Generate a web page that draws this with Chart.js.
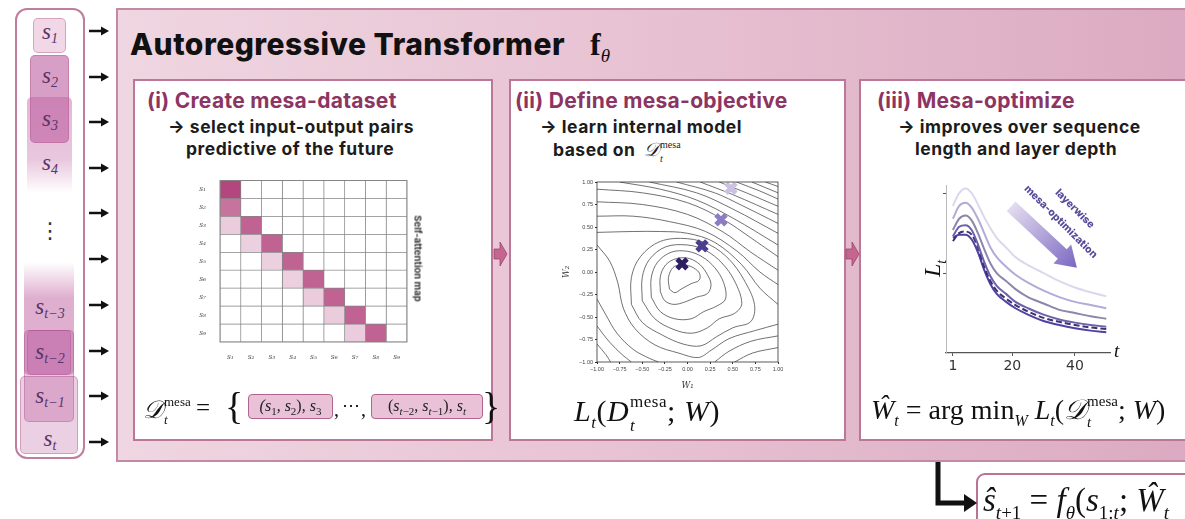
<!DOCTYPE html>
<html>
<head>
<meta charset="utf-8">
<script src="https://cdn.jsdelivr.net/npm/chart.js@4.4.1/dist/chart.umd.min.js"></script>
<style>
html,body{margin:0;padding:0}
body{width:1185px;height:519px;overflow:hidden;position:relative;background:#fff;font-family:Inter,"Open Sans",sans-serif}
.a{position:absolute}
.math{position:absolute;font-family:"Liberation Serif","DejaVu Serif",serif;color:#111;white-space:nowrap}
.math i{font-style:italic}
.ss{display:inline-flex;flex-direction:column;line-height:1.4;margin-left:1px;font-style:normal}
.ss .sb{font-style:italic}
.tok{position:absolute;left:14px;width:72px;text-align:center;font-family:"Liberation Serif","DejaVu Serif",serif;font-style:italic;font-size:23px;color:#5a3468;line-height:24px}
.tok sub{font-size:14px;vertical-align:-4px}
.tb{box-sizing:border-box;border-radius:5px;border:1px solid rgba(160,70,130,0.35)}
#main{left:116px;top:8px;width:1100px;height:454px;box-sizing:border-box;border:2px solid #c28aa6;background:linear-gradient(90deg,#efd6e1 0%,#e8c3d3 45%,#dba9c1 100%)}
.panel{position:absolute;top:79px;height:362px;box-sizing:border-box;background:#fff;border:2px solid #bb7797}
.hd{position:absolute;font-weight:700;color:#8c3462;font-size:21px;letter-spacing:0.3px;line-height:22px;white-space:nowrap}
.sub{position:absolute;font-weight:700;color:#1c1c1c;font-size:17.5px;letter-spacing:0.5px;line-height:22px;white-space:nowrap}
.pill{position:absolute;box-sizing:border-box;height:25px;top:394px;background:#e9c2d8;border:1.5px solid #b06590;border-radius:4px;font-family:"Liberation Serif",serif;font-size:16px;line-height:22px;text-align:center;color:#222}
.pill sub{font-size:11px}
</style>
</head>
<body>

<!-- token sequence -->
<div class="a" style="left:15px;top:8px;width:70px;height:451px;box-sizing:border-box;border:2px solid #c07d9d;border-radius:12px;background:#fff"></div>
<div class="a tb" style="left:33px;top:18px;width:33px;height:35px;background:#f2d8e7"></div>
<div class="a tb" style="left:30px;top:55px;width:39px;height:88px;background:rgba(190,95,160,0.6)"></div>
<div class="a tb" style="left:27px;top:97px;width:45px;height:96px;border:none;background:linear-gradient(180deg,rgba(190,95,160,0.45) 0%,rgba(190,95,160,0.35) 65%,rgba(190,95,160,0) 100%)"></div>
<div class="a tb" style="left:24px;top:262px;width:50px;height:113px;border:none;background:linear-gradient(180deg,rgba(190,95,160,0) 0%,rgba(190,95,160,0.5) 32%,rgba(190,95,160,0.5) 100%)"></div>
<div class="a tb" style="left:27px;top:330px;width:44px;height:45px;background:rgba(190,95,160,0.35)"></div>
<div class="a tb" style="left:24px;top:330px;width:50px;height:92px;background:rgba(190,95,160,0.35)"></div>
<div class="a tb" style="left:20px;top:376px;width:58px;height:78px;background:rgba(190,95,160,0.3)"></div>

<div class="tok" style="top:20px"><i>s</i><sub>1</sub></div>
<div class="tok" style="top:64px"><i>s</i><sub>2</sub></div>
<div class="tok" style="top:107px"><i>s</i><sub>3</sub></div>
<div class="tok" style="top:151px"><i>s</i><sub>4</sub></div>
<div class="a" style="left:14px;width:72px;top:214px;text-align:center;font-size:22px;line-height:34px;color:#333;font-family:'DejaVu Sans'">⋮</div>
<div class="tok" style="top:295px"><i>s</i><sub><i>t</i>−3</sub></div>
<div class="tok" style="top:340px"><i>s</i><sub><i>t</i>−2</sub></div>
<div class="tok" style="top:384px"><i>s</i><sub><i>t</i>−1</sub></div>
<div class="tok" style="top:427px"><i>s</i><sub><i>t</i></sub></div>

<!-- transformer block -->
<div class="a" id="main"></div>
<div class="a" style="left:130px;top:27px;font-size:30px;letter-spacing:0.5px;line-height:34px;font-weight:800;color:#111;white-space:nowrap">Autoregressive Transformer</div>
<div class="math" style="left:590px;top:26px;font-size:32px;font-weight:700;line-height:36px">f<sub style="font-size:19px;font-style:italic;font-weight:400">θ</sub></div>

<div class="panel" style="left:133px;width:360px"></div>
<div class="panel" style="left:509px;width:337px"></div>
<div class="panel" style="left:859px;width:345px"></div>

<div class="hd" style="left:147px;top:90px">(i) Create mesa-dataset</div>
<div class="sub" style="left:168px;top:116px">→ select input-output pairs</div>
<div class="sub" style="left:186px;top:138px">predictive of the future</div>

<div class="hd" style="left:515px;top:90px">(ii) Define mesa-objective</div>
<div class="sub" style="left:540px;top:116px">→ learn internal model</div>
<div class="sub" style="left:553px;top:138px">based on <span style="font-family:'Liberation Serif',serif;font-weight:400;font-size:19px;margin-left:4px;letter-spacing:0"><i>𝒟</i><span class="ss" style="font-size:10px;vertical-align:8px"><span>mesa</span><span class="sb">t</span></span></span></div>

<div class="hd" style="left:877px;top:90px">(iii) Mesa-optimize</div>
<div class="sub" style="left:898px;top:116px">→ improves over sequence</div>
<div class="sub" style="left:915px;top:138px">length and layer depth</div>

<!-- charts -->
<div class="a" style="left:185px;top:170px"><canvas id="attnMap" width="245" height="190"></canvas></div>
<div class="a" style="left:418px;top:260px;width:0;height:0">
  <div style="position:absolute;left:-60px;top:-7px;width:120px;text-align:center;transform:rotate(90deg);font-size:9.5px;font-weight:700;color:#333;white-space:nowrap">Self-attention map</div>
</div>

<div class="a" style="left:550px;top:170px"><canvas id="lossLandscape" width="245" height="225"></canvas></div>

<div class="a" style="left:900px;top:175px"><canvas id="lossCurves" width="230" height="205"></canvas></div>
<div class="math" style="left:919px;top:249px;font-size:24px;transform:rotate(-90deg);transform-origin:14px 14px"><i>L</i><sub style="font-size:14px"><i>t</i></sub></div>
<div class="math" style="left:1114px;top:340px;font-size:19px"><i>t</i></div>

<!-- layerwise arrow -->
<svg class="a" style="left:0;top:0" width="1185" height="519">
  <defs>
    <linearGradient id="lw" x1="0" y1="0" x2="1" y2="0">
      <stop offset="0" stop-color="#e3dcef"/>
      <stop offset="1" stop-color="#7b67c2"/>
    </linearGradient>
  </defs>
  <g transform="translate(1044,237) rotate(43)">
    <polygon points="-45,-6.5 25,-6.5 25,-13 45,0 25,13 25,6.5 -45,6.5" fill="url(#lw)"/>
  </g>
</svg>
<div class="a" style="left:1061px;top:222px;width:0;height:0">
  <div style="position:absolute;left:-70px;top:-7px;width:140px;text-align:center;transform:rotate(45deg);font-size:10.5px;font-weight:800;color:#5a4a9a;white-space:nowrap">mesa-optimization</div>
</div>
<div class="a" style="left:1075px;top:209px;width:0;height:0">
  <div style="position:absolute;left:-40px;top:-7px;width:80px;text-align:center;transform:rotate(45deg);font-size:10.5px;font-weight:800;color:#5a4a9a;white-space:nowrap">layerwise</div>
</div>

<!-- formulas -->
<div class="math" style="left:143px;top:393px;font-size:25px;line-height:30px"><i>𝒟</i><span class="ss" style="font-size:13px;vertical-align:12px"><span>mesa</span><span class="sb">t</span></span></div>
<div class="math" style="left:196px;top:393px;font-size:25px;line-height:30px">=</div>
<div class="math" style="left:225px;top:386px;font-size:38px;line-height:40px;font-weight:300">{</div>
<div class="pill" style="left:248px;width:85px"><i>(s</i><sub>1</sub>, <i>s</i><sub>2</sub>), <i>s</i><sub>3</sub></div>
<div class="math" style="left:334px;top:398px;font-size:20px">,</div>
<div class="math" style="left:342px;top:394px;font-size:18px">⋯</div>
<div class="math" style="left:361px;top:398px;font-size:20px">,</div>
<div class="pill" style="left:371px;width:112px">(<i>s</i><sub><i>t</i>−2</sub>, <i>s</i><sub><i>t</i>−1</sub>), <i>s</i><sub><i>t</i></sub></div>
<div class="math" style="left:482px;top:386px;font-size:38px;line-height:40px;font-weight:300">}</div>

<div class="math" style="left:574px;top:390px;font-size:30px;line-height:34px;letter-spacing:0.5px"><i>L</i><sub style="font-size:17px"><i>t</i></sub>(<i>D</i><span class="ss" style="font-size:17px;vertical-align:14px"><span>mesa</span><span class="sb">t</span></span>; <i>W</i>)</div>

<div class="math" style="left:871px;top:391px;font-size:28px;line-height:34px"><i>Ŵ</i><sub style="font-size:16px"><i>t</i></sub> = arg min<sub style="font-size:16px"><i>W</i></sub> <i>L</i><sub style="font-size:16px"><i>t</i></sub>(<i>𝒟</i><span class="ss" style="font-size:15px;vertical-align:13px"><span>mesa</span><span class="sb">t</span></span>; <i>W</i>)</div>

<!-- output -->
<div class="a" style="left:976px;top:473px;width:240px;height:60px;box-sizing:border-box;border:2px solid #b97395;border-radius:9px 0 0 0;background:#fff"></div>
<div class="math" style="left:983px;top:481px;font-size:33px;line-height:38px"><i>ŝ</i><sub style="font-size:19px"><i>t</i>+1</sub> = <i>f</i><sub style="font-size:19px"><i>θ</i></sub>(<i>s</i><sub style="font-size:19px">1:<i>t</i></sub>; <i>Ŵ</i><sub style="font-size:19px"><i>t</i></sub></div>

<!-- connectors -->
<svg class="a" style="left:0;top:0;pointer-events:none" width="1185" height="519" id="conn"></svg>

<script>
// ---------- token inputs ----------
const tokenArrowY = [31, 77, 122, 168, 213, 259, 305, 351, 396, 442];

// ---------- (i) self-attention map ----------
const rowLabels = ['s₁','s₂','s₃','s₄','s₅','s₆','s₇','s₈','s₉'];
const colLabels = ['s₁','s₂','s₃','s₄','s₅','s₆','s₇','s₈','s₉'];
const attention = [
  [0.95,0,0,0,0,0,0,0,0],
  [0.72,0,0,0,0,0,0,0,0],
  [0.26,0.8,0,0,0,0,0,0,0],
  [0,0.24,0.8,0,0,0,0,0,0],
  [0,0,0.24,0.8,0,0,0,0,0],
  [0,0,0,0.24,0.8,0,0,0,0],
  [0,0,0,0,0.26,0.8,0,0,0],
  [0,0,0,0,0,0.26,0.8,0,0],
  [0,0,0,0,0,0,0.26,0.8,0]
];

// ---------- (ii) loss landscape ----------
const innerLoops = [
  [[-0.20,-0.19],[-0.21,-0.06],[-0.16,0.05],[-0.07,0.08],[0.04,0.06],[0.13,-0.01],[0.13,-0.09],[0.04,-0.13],[-0.07,-0.19],[-0.14,-0.23],[-0.20,-0.19]],
  [[-0.30,-0.22],[-0.30,-0.05],[-0.24,0.08],[-0.12,0.15],[0.02,0.15],[0.14,0.08],[0.22,-0.03],[0.26,-0.14],[0.22,-0.24],[0.10,-0.28],[-0.02,-0.33],[-0.15,-0.36],[-0.25,-0.32],[-0.30,-0.22]],
  [[-0.40,-0.28],[-0.40,-0.06],[-0.33,0.11],[-0.18,0.22],[0.0,0.23],[0.16,0.17],[0.30,0.05],[0.40,-0.12],[0.42,-0.30],[0.32,-0.38],[0.18,-0.44],[0.04,-0.52],[-0.14,-0.52],[-0.30,-0.44],[-0.40,-0.28]],
  [[-0.50,-0.32],[-0.50,-0.06],[-0.42,0.14],[-0.24,0.28],[0.0,0.30],[0.20,0.24],[0.38,0.10],[0.52,-0.10],[0.60,-0.35],[0.52,-0.46],[0.35,-0.52],[0.22,-0.62],[0.05,-0.68],[-0.15,-0.64],[-0.36,-0.52],[-0.50,-0.32]],
  [[-0.62,-0.36],[-0.62,-0.06],[-0.52,0.17],[-0.30,0.34],[0.0,0.37],[0.25,0.30],[0.46,0.14],[0.62,-0.08],[0.74,-0.36],[0.70,-0.55],[0.50,-0.62],[0.32,-0.72],[0.15,-0.82],[-0.05,-0.80],[-0.28,-0.70],[-0.50,-0.56],[-0.62,-0.36]]
];
const upperContours = [
  [[-1,0.44],[-0.6,0.45],[-0.3,0.45],[0.0,0.43],[0.3,0.33],[0.6,0.08],[0.8,-0.18],[1,-0.36]],
  [[-1,0.62],[-0.6,0.62],[-0.2,0.56],[0.2,0.45],[0.55,0.23],[0.8,0.0],[1,-0.14]],
  [[-1,0.78],[-0.5,0.75],[0,0.64],[0.4,0.44],[0.7,0.22],[1,0.02]],
  [[-1,0.92],[-0.5,0.88],[0,0.77],[0.4,0.58],[0.7,0.38],[1,0.17]],
  [[-0.75,1],[-0.3,0.92],[0.1,0.80],[0.5,0.60],[1,0.30]],
  [[-0.42,1],[0.1,0.88],[0.5,0.70],[1,0.43]],
  [[-0.12,1],[0.3,0.88],[0.6,0.74],[1,0.54]],
  [[0.14,1],[0.5,0.86],[1,0.64]],
  [[0.35,1],[0.65,0.88],[1,0.73]],
  [[0.54,1],[0.8,0.9],[1,0.81]],
  [[0.71,1],[1,0.88]],
  [[0.86,1],[1,0.95]]
];
const lowerContours = [
  [[-1,0.30],[-0.86,0.12],[-0.77,-0.12],[-0.71,-0.40],[-0.58,-0.63],[-0.36,-0.81],[-0.1,-0.90],[0.12,-0.95],[0.26,-0.87],[0.46,-0.74],[0.75,-0.65],[1,-0.58]],
  [[-1,-0.30],[-0.9,-0.48],[-0.78,-0.68],[-0.6,-0.86],[-0.42,-0.96],[-0.32,-1.0]],
  [[0.30,-1.0],[0.46,-0.88],[0.7,-0.77],[1,-0.71]],
  [[-1,-0.60],[-0.86,-0.78],[-0.72,-0.92],[-0.62,-1.0]],
  [[-1,-0.80],[-0.9,-0.92],[-0.85,-1.0]],
  [[0.52,-1.0],[0.72,-0.9],[1,-0.84]]
];
const weightPath = [[-0.06,0.09],[0.16,0.29],[0.37,0.58],[0.48,0.93]];
const weightColors = ['#2e1f63','#4d3d8f','#8c7cc4','#cbc1e3'];
const tickValues = [-1,-0.75,-0.5,-0.25,0,0.25,0.5,0.75,1];

// ---------- (iii) loss over sequence length, per layer ----------
const tSteps = [1,3,5,7,9,11,13,15,18,21,25,30,35,40,45,50];
const lossLayer1 = [0.92,1.00,1.03,1.00,0.93,0.85,0.78,0.72,0.66,0.60,0.55,0.50,0.45,0.41,0.38,0.355];
const lossLayer2 = [0.84,0.92,0.94,0.91,0.84,0.75,0.66,0.60,0.54,0.49,0.44,0.39,0.35,0.32,0.30,0.28];
const lossLayer3 = [0.77,0.84,0.86,0.83,0.75,0.65,0.56,0.50,0.45,0.40,0.35,0.31,0.27,0.25,0.23,0.215];
const lossLayer4 = [0.73,0.79,0.80,0.77,0.68,0.57,0.48,0.42,0.37,0.32,0.28,0.24,0.21,0.19,0.175,0.165];
const lossLayer5 = [0.70,0.75,0.76,0.74,0.66,0.54,0.45,0.39,0.34,0.30,0.26,0.22,0.195,0.175,0.16,0.15];
const lossLayer6 = [0.72,0.74,0.74,0.71,0.63,0.52,0.43,0.37,0.32,0.28,0.24,0.20,0.175,0.155,0.14,0.13];
const layerColors = ['#ddd7ec','#b4aad7','#8c86ad','#6d61ab','#3b3274','#5040a0'];
const xTickValues = [1,20,40];

Chart.defaults.animation = false;
Chart.defaults.events = [];
Chart.defaults.plugins.legend.display = false;
Chart.defaults.plugins.tooltip.enabled = false;

const frame = {
  id: 'frame',
  afterDatasetsDraw(chart, args, opts) {
    const {ctx, chartArea: c} = chart;
    ctx.save();
    ctx.strokeStyle = opts.color || '#333';
    ctx.lineWidth = opts.width || 0.8;
    ctx.strokeRect(c.left, c.top, c.right - c.left, c.bottom - c.top);
    ctx.restore();
  }
};

function cellColor(v) {
  const r = Math.round(255 - v * (255 - 176));
  const g = Math.round(255 - v * (255 - 60));
  const b = Math.round(255 - v * (255 - 120));
  return `rgb(${r},${g},${b})`;
}

new Chart(document.getElementById('attnMap'), {
  type: 'bar',
  data: {
    labels: rowLabels,
    datasets: colLabels.map((c, j) => ({
      data: rowLabels.map(() => 1),
      backgroundColor: rowLabels.map((r, i) => cellColor(attention[i][j])),
      borderColor: '#858585',
      borderWidth: 0.7,
      borderSkipped: false,
      barPercentage: 1,
      categoryPercentage: 1
    }))
  },
  options: {
    indexAxis: 'y',
    responsive: false,
    layout: {padding: {top: 10, right: 23, left: 0, bottom: 0}},
    scales: {
      x: {
        stacked: true, min: 0, max: 9,
        afterBuildTicks: ax => { ax.ticks = colLabels.map((_, i) => ({value: i + 0.5})); },
        afterFit: ax => { ax.height = 18; },
        ticks: {autoSkip: false, maxRotation: 0, padding: 3, color: '#555',
                font: {family: 'DejaVu Serif', style: 'italic', size: 7.5},
                callback: (v, i) => colLabels[i]},
        grid: {display: false}, border: {display: false}
      },
      y: {
        stacked: true,
        afterFit: ax => { ax.width = 35; },
        ticks: {padding: 6, color: '#555', font: {family: 'DejaVu Serif', style: 'italic', size: 7.5}},
        grid: {display: false}, border: {display: false}
      }
    },
    plugins: {frame: {color: '#858585', width: 1}}
  },
  plugins: [frame]
});

const toXY = pts => pts.map(([x, y]) => ({x, y}));
const contourSets = [...innerLoops, ...upperContours, ...lowerContours].map(pts => ({
  data: toXY(pts),
  showLine: true,
  borderColor: '#4d4d4d',
  borderWidth: 0.8,
  pointRadius: 0,
  tension: 0.35,
  order: 2
}));

new Chart(document.getElementById('lossLandscape'), {
  type: 'scatter',
  data: {
    datasets: [
      {
        data: toXY(weightPath),
        pointStyle: 'crossRot',
        pointRadius: 7,
        pointBorderWidth: 5,
        pointBorderColor: weightColors,
        pointBackgroundColor: weightColors,
        showLine: false,
        order: 0
      },
      ...contourSets
    ]
  },
  options: {
    responsive: false,
    layout: {padding: {top: 11, right: 17, left: 8, bottom: 0}},
    scales: {
      x: {
        type: 'linear', min: -1, max: 1,
        afterBuildTicks: ax => { ax.ticks = tickValues.map(v => ({value: v})); },
        afterFit: ax => { ax.height = 33; },
        ticks: {autoSkip: false, maxRotation: 0, padding: 2, color: '#444', font: {size: 5.5},
                callback: v => v.toFixed(2).replace('-', '−')},
        grid: {drawOnChartArea: false, tickLength: 2, color: '#333'},
        border: {display: false},
        title: {display: true, text: 'W₁', padding: {top: 0}, color: '#333',
                font: {family: 'DejaVu Serif', style: 'italic', size: 8.5}}
      },
      y: {
        type: 'linear', min: -1, max: 1,
        afterBuildTicks: ax => { ax.ticks = tickValues.map(v => ({value: v})); },
        afterFit: ax => { ax.width = 39; },
        ticks: {autoSkip: false, padding: 2, color: '#444', font: {size: 5.5},
                callback: v => v.toFixed(2).replace('-', '−')},
        grid: {drawOnChartArea: false, tickLength: 2, color: '#333'},
        border: {display: false},
        title: {display: true, text: 'W₂', padding: {bottom: 2}, color: '#333',
                font: {family: 'DejaVu Serif', style: 'italic', size: 8.5}}
      }
    },
    plugins: {frame: {color: '#333', width: 0.8}}
  },
  plugins: [frame]
});

const layerSeries = [lossLayer1, lossLayer2, lossLayer3, lossLayer4, lossLayer5, lossLayer6];
new Chart(document.getElementById('lossCurves'), {
  type: 'line',
  data: {
    datasets: layerSeries.map((ys, k) => ({
      data: tSteps.map((t, i) => ({x: t, y: ys[i]})),
      borderColor: layerColors[k],
      borderWidth: 2,
      borderDash: k === 4 ? [6, 3] : [],
      pointRadius: 0,
      cubicInterpolationMode: 'monotone',
      fill: false
    }))
  },
  options: {
    responsive: false,
    layout: {padding: {top: 10, right: 20, left: 0, bottom: 0}},
    scales: {
      x: {
        type: 'linear', min: -1.2, max: 51.2,
        afterBuildTicks: ax => { ax.ticks = xTickValues.map(v => ({value: v})); },
        afterFit: ax => { ax.height = 27; },
        ticks: {autoSkip: false, maxRotation: 0, padding: 2, color: '#333',
                font: {family: 'DejaVu Sans', size: 14}},
        grid: {drawOnChartArea: false, tickLength: 3, color: '#555'},
        border: {display: true, color: '#555', width: 1.2}
      },
      y: {
        type: 'linear', min: 0, max: 1.05,
        afterBuildTicks: ax => { ax.ticks = [{value: 0.5}, {value: 1.0}]; },
        afterFit: ax => { ax.width = 46; },
        ticks: {callback: () => ''},
        grid: {drawOnChartArea: false, tickLength: 3, color: '#555'},
        border: {display: true, color: '#bbb', width: 1}
      }
    }
  }
});

// ---------- connectors ----------
const svg = document.getElementById('conn');
const NS = 'http://www.w3.org/2000/svg';
function add(tag, attrs) {
  const el = document.createElementNS(NS, tag);
  for (const k in attrs) el.setAttribute(k, attrs[k]);
  svg.appendChild(el);
}
tokenArrowY.forEach(y => {
  add('line', {x1: 89, y1: y, x2: 102, y2: y, stroke: '#111', 'stroke-width': 2.5});
  add('polygon', {points: `101,${y - 4.5} 109,${y} 101,${y + 4.5}`, fill: '#111'});
});
[494, 846].forEach(x => {
  add('polygon', {points: `${x},249 ${x + 6},249 ${x + 6},242 ${x + 13},254 ${x + 6},266 ${x + 6},259 ${x},259`,
                  fill: '#c4668f', stroke: '#9c4670', 'stroke-width': 0.8});
});
add('path', {d: 'M938 462 V503 H966', fill: 'none', stroke: '#111', 'stroke-width': 5});
add('polygon', {points: '964,494 977,503 964,512', fill: '#111'});
</script>
</body>
</html>
